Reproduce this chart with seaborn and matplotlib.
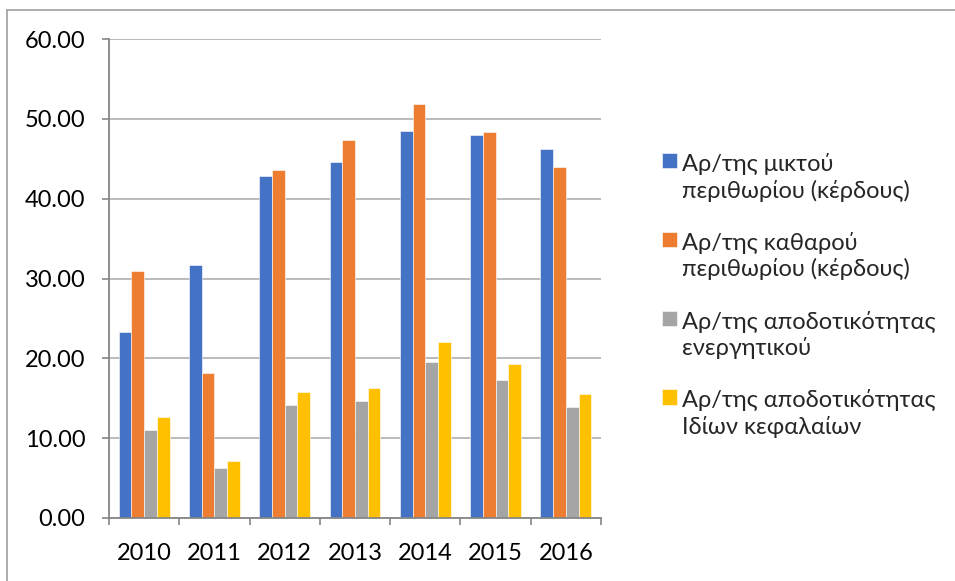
import matplotlib
matplotlib.use("Agg")
import matplotlib.pyplot as plt
from matplotlib.lines import Line2D
from matplotlib.ticker import FixedLocator, FormatStrFormatter
import seaborn as sns
import pandas as pd

years = ["2010", "2011", "2012", "2013", "2014", "2015", "2016"]
series_names = [
    "Αρ/της μικτού\nπεριθωρίου (κέρδους)",
    "Αρ/της καθαρού\nπεριθωρίου (κέρδους)",
    "Αρ/της αποδοτικότητας\nενεργητικού",
    "Αρ/της αποδοτικότητας\nΙδίων κεφαλαίων",
]
gross_margin = [23.3, 31.7, 42.8, 44.6, 48.5, 48.0, 46.2]
net_margin = [31.0, 18.2, 43.6, 47.3, 51.9, 48.3, 44.0]
return_on_assets = [11.0, 6.3, 14.2, 14.7, 19.5, 17.3, 13.9]
return_on_equity = [12.6, 7.1, 15.8, 16.3, 22.1, 19.3, 15.5]
colors = ["#4472C4", "#ED7D31", "#A5A5A5", "#FFC000"]

rows = []
for name, vals in zip(series_names,
                      [gross_margin, net_margin, return_on_assets, return_on_equity]):
    for y, v in zip(years, vals):
        rows.append({"year": y, "series": name, "value": v})
df = pd.DataFrame(rows)

sns.set_theme(style="white")
plt.rcParams["font.family"] = ["Lato", "Noto Sans", "DejaVu Sans"]

W, H = 955, 581
FS = 17
fig = plt.figure(figsize=(W / 100, H / 100), dpi=100)
ax = fig.add_axes([109 / W, 1 - 518 / H, (601 - 109) / W, (518 - 39) / H])

sns.barplot(data=df, x="year", y="value", hue="series", order=years,
            hue_order=series_names, palette=colors, width=0.725, gap=0,
            saturation=1, edgecolor="white", linewidth=0.4, ax=ax)

ax.set_ylim(0, 60)
ax.set_xlim(-0.5, len(years) - 0.5)
ax.set_yticks(range(0, 61, 10))
ax.yaxis.set_major_formatter(FormatStrFormatter("%.2f"))
ax.set_xlabel("")
ax.set_ylabel("")
ax.set_axisbelow(True)
ax.yaxis.grid(True, color="#b5b5b5", linewidth=1.3)
ax.xaxis.grid(False)

for side in ["top", "right"]:
    ax.spines[side].set_visible(False)
for side in ["left", "bottom"]:
    ax.spines[side].set_color("#868686")
    ax.spines[side].set_linewidth(1.3)

ax.tick_params(axis="y", which="major", length=5, width=1.2, color="#868686",
               pad=12, labelsize=FS, labelcolor="black", left=True)
ax.tick_params(axis="x", which="major", length=0, pad=18, labelsize=FS,
               labelcolor="black")
ax.xaxis.set_minor_locator(FixedLocator([i - 0.5 for i in range(len(years) + 1)]))
ax.tick_params(axis="x", which="minor", length=5, width=1.2, color="#868686",
               bottom=True)

handles, labels = ax.get_legend_handles_labels()
ax.get_legend().remove()
leg = fig.legend(handles, labels, loc="upper left",
                 bbox_to_anchor=(662 / W, 1 - 153 / H),
                 frameon=False, fontsize=FS, handlelength=0.62,
                 handleheight=0.62, handletextpad=0.22, labelspacing=1.28,
                 borderpad=0, borderaxespad=0)
for t in leg.get_texts():
    t.set_linespacing(1.25)
for col in leg._legend_handle_box.get_children():
    for item in col.get_children():
        item.align = "top"

# chart frame edges
frame_kw = dict(color="#a6a6a6", linewidth=1.3, transform=fig.transFigure)
fig.add_artist(Line2D([7 / W, 1.0], [1 - 9.5 / H, 1 - 9.5 / H], **frame_kw))
fig.add_artist(Line2D([7 / W, 7 / W], [0.0, 1 - 9.5 / H], **frame_kw))

fig.savefig("out.png", dpi=100)
